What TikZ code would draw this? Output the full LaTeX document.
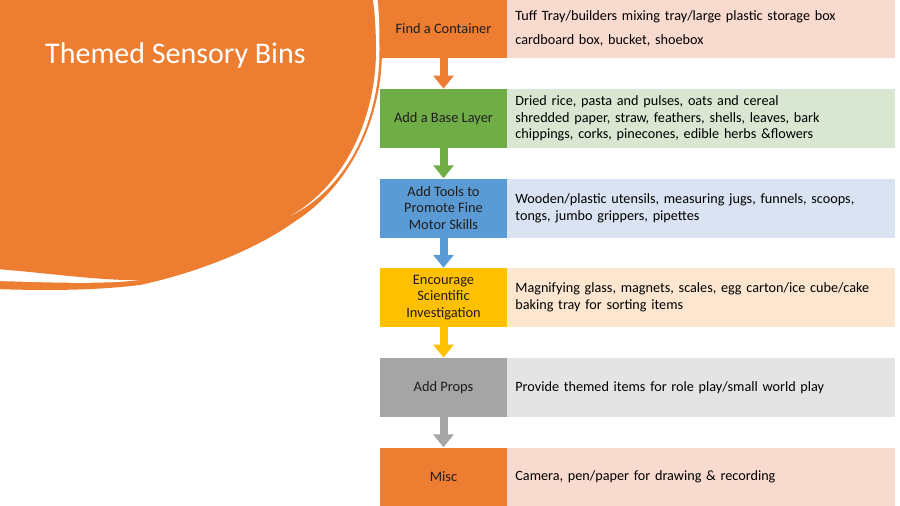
\documentclass[tikz,border=0pt]{standalone}
\usepackage{fontspec}
\setmainfont{Carlito}
\usetikzlibrary{arrows.meta}
\definecolor{cOrange}{HTML}{ED7D31}
\definecolor{cOrangeL}{HTML}{F8DACE}
\definecolor{cGreen}{HTML}{70AD47}
\definecolor{cGreenL}{HTML}{D9E6D2}
\definecolor{cBlue}{HTML}{5B9BD5}
\definecolor{cBlueL}{HTML}{DAE3F2}
\definecolor{cGold}{HTML}{FFC000}
\definecolor{cGoldL}{HTML}{FCE6D0}
\definecolor{cGray}{HTML}{A5A5A5}
\definecolor{cGrayL}{HTML}{E4E4E4}
\definecolor{txt}{HTML}{1E1E1E}
\begin{document}
\begin{tikzpicture}[x=1pt,y=-1pt,
  lbox/.style={rectangle, minimum width=127pt, minimum height=59pt, inner sep=2pt,
    align=center, text=txt, font=\fontsize{14.4}{16.3}\selectfont},
  rbox/.style={rectangle, minimum width=388pt, minimum height=59pt, inner sep=0pt,
    text width=372pt, align=left, anchor=west, text=black, font=\fontsize{14.2}{16.6}\selectfont},
  flow/.style={line width=8pt, -{Triangle[width=20pt,length=13pt]}}]
\useasboundingbox (0,0) rectangle (900,506);
\clip (0,0) rectangle (900,506);
\fill[white] (0,0) rectangle (900,506);
% outer orange shape
\fill[cOrange] (-5,289) .. controls (50,291) and (100,290) .. (140,285)
  .. controls (200,272) and (258,248) .. (294,222)
  .. controls (348,188) and (382,122) .. (382,50)
  .. controls (382,20) and (381,5) .. (380,-5) -- (-5,-5) -- cycle;
% white swooshes
\fill[white] (377,-5) .. controls (379,10) and (379.5,25) .. (379.5,50)
  .. controls (379.5,120) and (348,188) .. (290,216) -- (250,200) -- (250,-5) -- cycle;
\fill[white] (-5,281) .. controls (40,282) and (100,285) .. (140,280) -- (140,250) -- (-5,250) -- cycle;
% main disc
\fill[cOrange] (-5,269) .. controls (40,272) and (100,281) .. (140,280)
  .. controls (200,268) and (255,240) .. (290,216)
  .. controls (345,185) and (376,118) .. (376,50)
  .. controls (376,25) and (374,5) .. (372,-5) -- (-5,-5) -- cycle;
\node[anchor=base west, inner sep=0pt, text=white, font=\fontsize{30}{32}\selectfont] (title) at (45,63) {Themed Sensory Bins};
% flow boxes
\node[lbox, fill=cOrange] (l1) at (443.5,28.5) {Find a Container};
\node[lbox, fill=cGreen] (l2) at (443.5,118.3) {Add a Base Layer};
\node[lbox, fill=cBlue] (l3) at (443.5,208) {Add Tools to\\Promote Fine\\Motor Skills};
\node[lbox, fill=cGold] (l4) at (443.5,297.5) {Encourage\\Scientific\\Investigation};
\node[lbox, fill=cGray] (l5) at (443.5,387.3) {Add Props};
\node[lbox, fill=cOrange] (l6) at (443.5,477) {Misc};
\node[rbox, fill=cOrangeL] (r1) at (l1.east) {Tuff Tray/builders mixing tray/large plastic storage box\\[8pt]cardboard box, bucket, shoebox};
\node[rbox, fill=cGreenL] (r2) at (l2.east) {Dried rice, pasta and pulses, oats and cereal\\shredded paper, straw, feathers, shells, leaves, bark\\chippings, corks, pinecones, edible herbs \&flowers};
\node[rbox, fill=cBlueL] (r3) at (l3.east) {Wooden/plastic utensils, measuring jugs, funnels, scoops,\\tongs, jumbo grippers, pipettes};
\node[rbox, fill=cGoldL] (r4) at (l4.east) {Magnifying glass, magnets, scales, egg carton/ice cube/cake\\baking tray for sorting items};
\node[rbox, fill=cGrayL] (r5) at (l5.east) {Provide themed items for role play/small world play};
\node[rbox, fill=cOrangeL] (r6) at (l6.east) {Camera, pen/paper for drawing \& recording};
% arrows
\draw[flow, draw=cOrange] (l1.south) -- (l2.north);
\draw[flow, draw=cGreen] (l2.south) -- (l3.north);
\draw[flow, draw=cBlue] (l3.south) -- (l4.north);
\draw[flow, draw=cGold] (l4.south) -- (l5.north);
\draw[flow, draw=cGray] (l5.south) -- (l6.north);
\end{tikzpicture}
\end{document}
